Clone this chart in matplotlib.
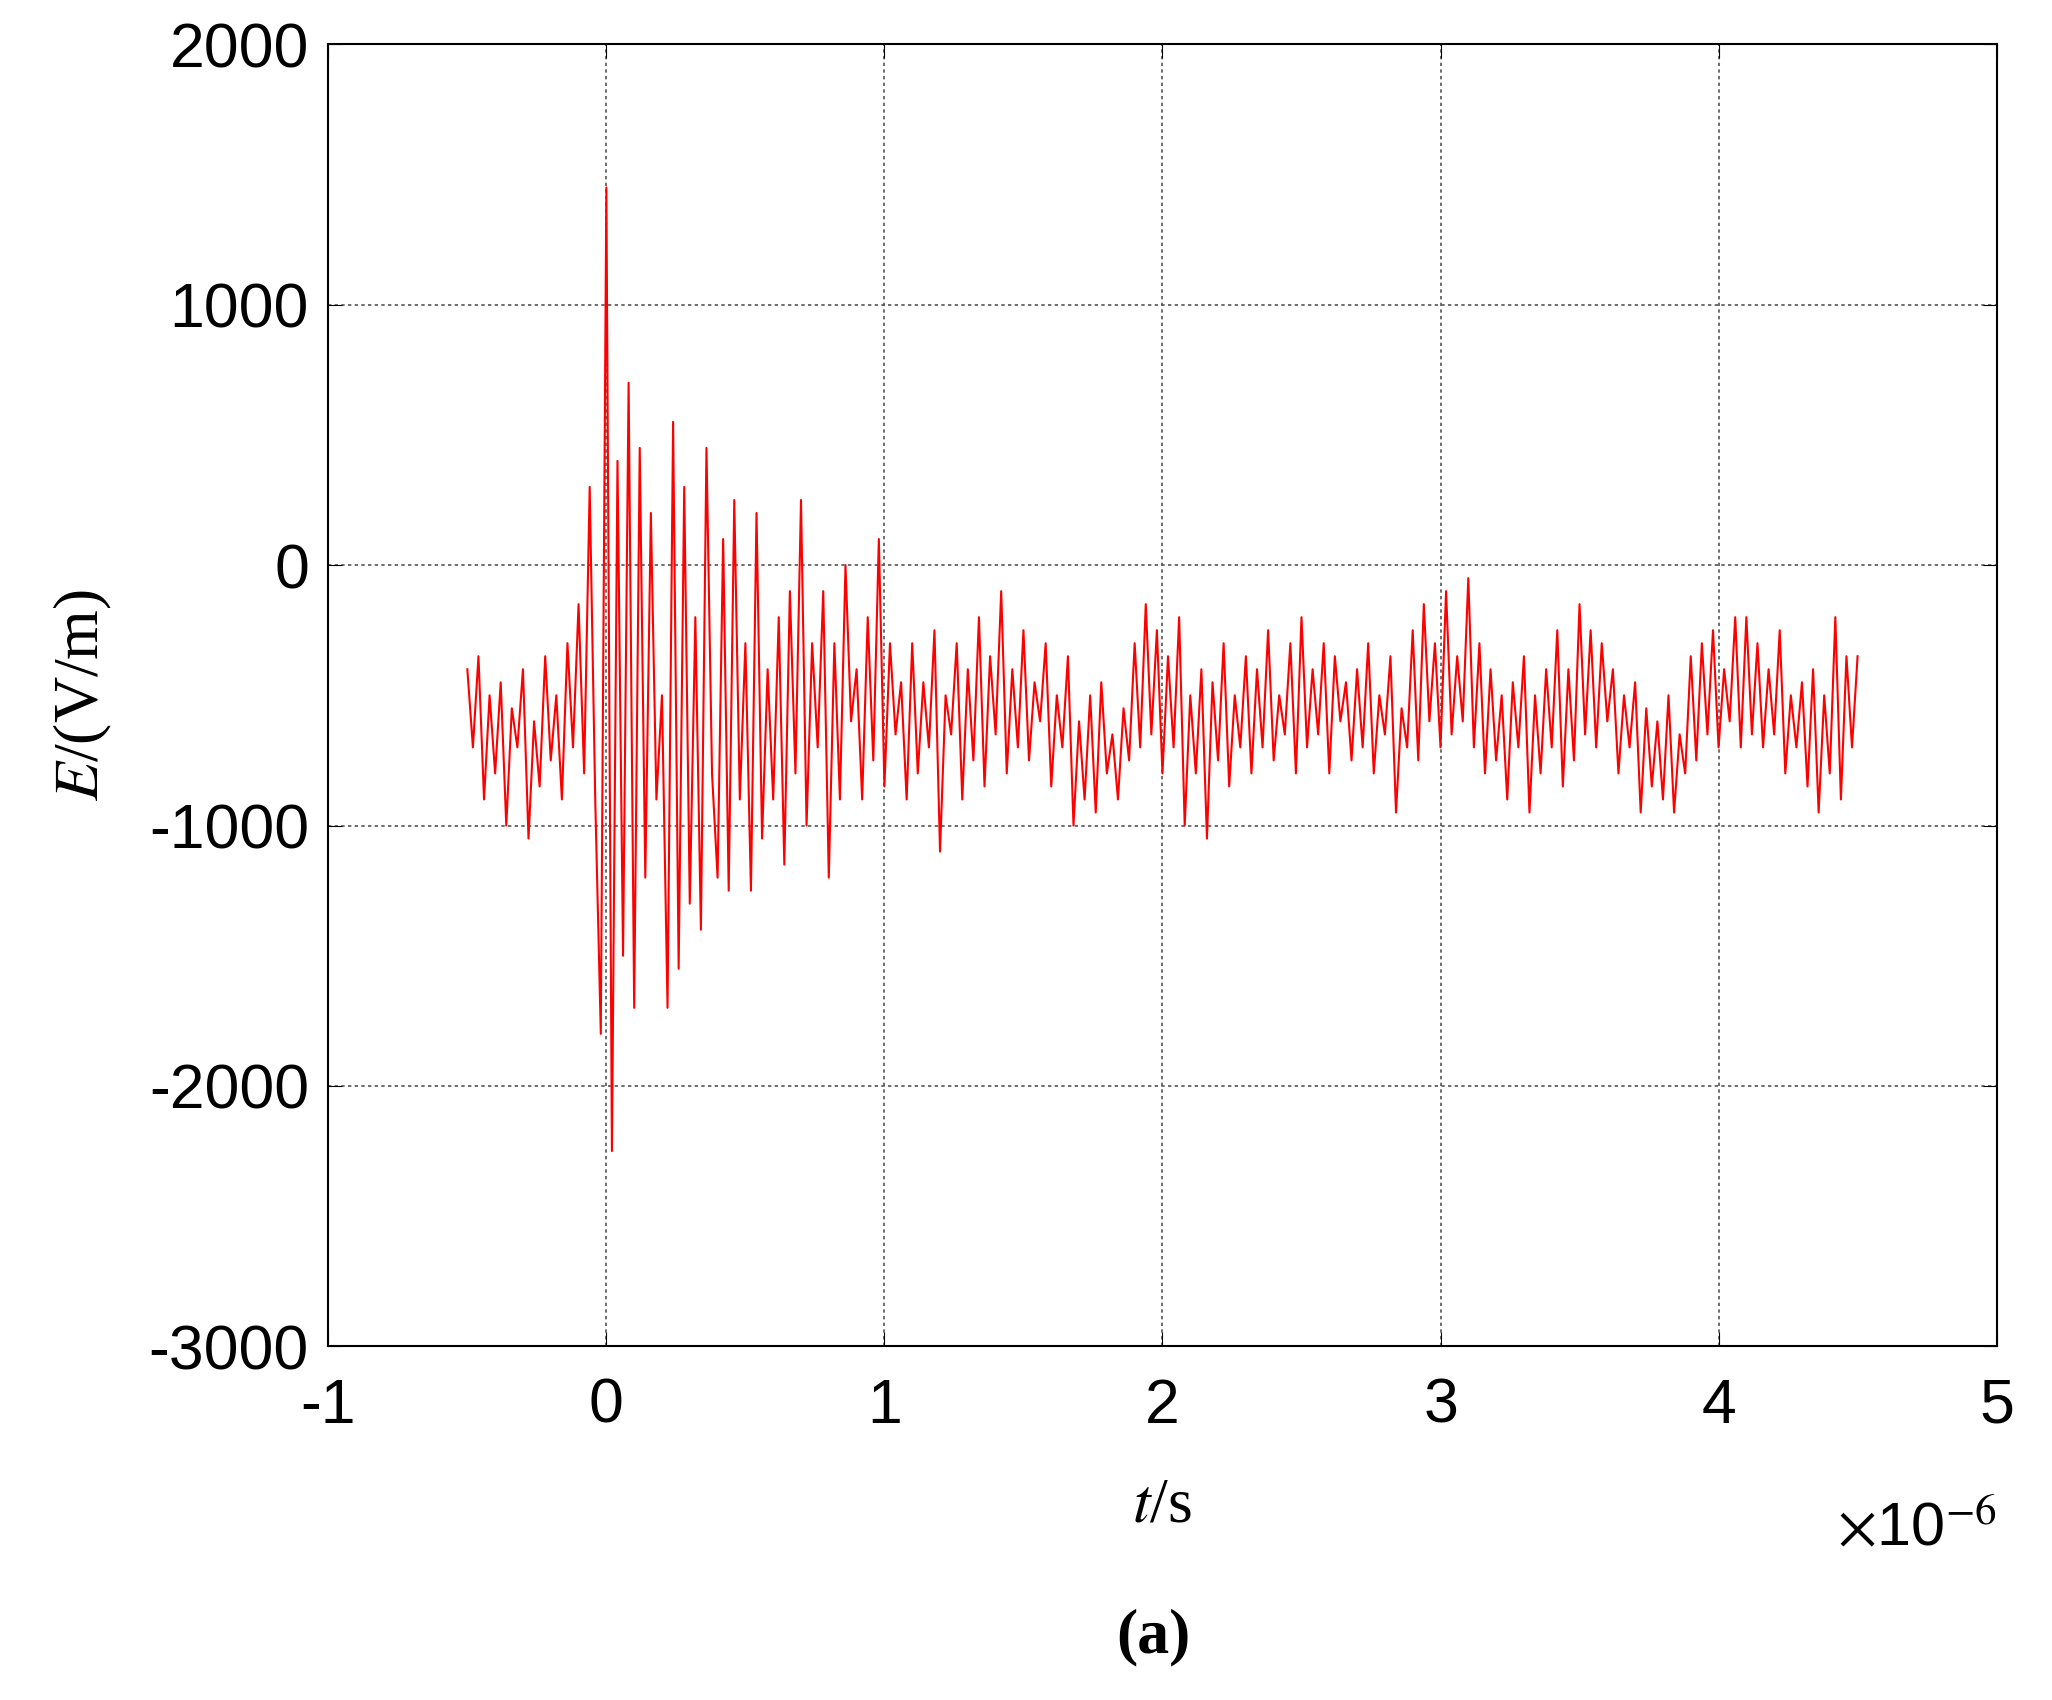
import numpy as np
import matplotlib
matplotlib.use("Agg")
import matplotlib.pyplot as plt
matplotlib.rcParams['mathtext.fontset'] = 'stix'

t_start_us = -0.5
t_end_us = 4.5
E_values = [
-400,-700,-350,-900,-500,-800,-450,-1000,-550,-700,
-400,-1050,-600,-850,-350,-750,-500,-900,-300,-700,
-150,-800,300,-900,-1800,1450,-2250,400,-1500,700,
-1700,450,-1200,200,-900,-500,-1700,550,-1550,300,
-1300,-200,-1400,450,-800,-1200,100,-1250,250,-900,
-300,-1250,200,-1050,-400,-900,-200,-1150,-100,-800,
250,-1000,-300,-700,-100,-1200,-300,-900,0,-600,
-400,-900,-200,-750,100,-850,-300,-650,-450,-900,
-300,-800,-450,-700,-250,-1100,-500,-650,-300,-900,
-400,-750,-200,-850,-350,-650,-100,-800,-400,-700,
-250,-750,-450,-600,-300,-850,-500,-700,-350,-1000,
-600,-900,-500,-950,-450,-800,-650,-900,-550,-750,
-300,-700,-150,-650,-250,-800,-350,-700,-200,-1000,
-500,-800,-400,-1050,-450,-750,-300,-850,-500,-700,
-350,-800,-400,-700,-250,-750,-500,-650,-300,-800,
-200,-700,-400,-650,-300,-800,-350,-600,-450,-750,
-400,-700,-300,-800,-500,-650,-350,-950,-550,-700,
-250,-750,-150,-600,-300,-700,-100,-650,-350,-600,
-50,-700,-300,-800,-400,-750,-500,-900,-450,-700,
-350,-950,-500,-800,-400,-700,-250,-850,-400,-750,
-150,-650,-250,-700,-300,-600,-400,-800,-500,-700,
-450,-950,-550,-850,-600,-900,-500,-950,-650,-800,
-350,-750,-300,-650,-250,-700,-400,-600,-200,-700,
-200,-650,-300,-700,-400,-650,-250,-800,-500,-700,
-450,-850,-400,-950,-500,-800,-200,-900,-350,-700,
-350]
xticks = [-1, 0, 1, 2, 3, 4, 5]
yticks = [-3000, -2000, -1000, 0, 1000, 2000]

E = np.array(E_values)
t = np.linspace(t_start_us, t_end_us, len(E)) * 1e-6

fig = plt.figure(figsize=(20.52, 17.0), dpi=100)
ax = fig.add_axes([0.160, 0.208, 0.813, 0.766])
ax.plot(t, E, color='red', lw=1.5)
ax.set_xlim(-1e-6, 5e-6)
ax.set_ylim(-3000, 2000)
ax.set_xticks([v * 1e-6 for v in xticks])
ax.set_xticklabels([str(v) for v in xticks])
ax.set_yticks(yticks)
ax.set_yticklabels([str(v) for v in yticks])
ax.grid(True, color='#555555', ls=(0, (2, 2)), lw=1.2)
ax.tick_params(labelsize=45, direction='in', length=10, top=True, right=True)
ax.tick_params(axis='x', pad=22)
ax.tick_params(axis='y', pad=14)
for lab in ax.get_xticklabels() + ax.get_yticklabels():
    lab.set_family('Liberation Sans')
for s in ax.spines.values():
    s.set_linewidth(1.5)
ax.set_xlabel(r'$t$/s', family='Liberation Serif', fontsize=46, labelpad=30)
ax.set_ylabel('$E$/(V/m)', fontsize=46, family='Liberation Serif', labelpad=25)
fig.text(0.973, 0.083, r'$\times$10$^{-6}$', ha='right', va='bottom',
         fontsize=44, family='Liberation Sans')
fig.text(0.562, 0.02, '(a)', ha='center', va='bottom', fontsize=46,
         family='Liberation Serif', fontweight='bold')
fig.savefig('out.png', dpi=100)
